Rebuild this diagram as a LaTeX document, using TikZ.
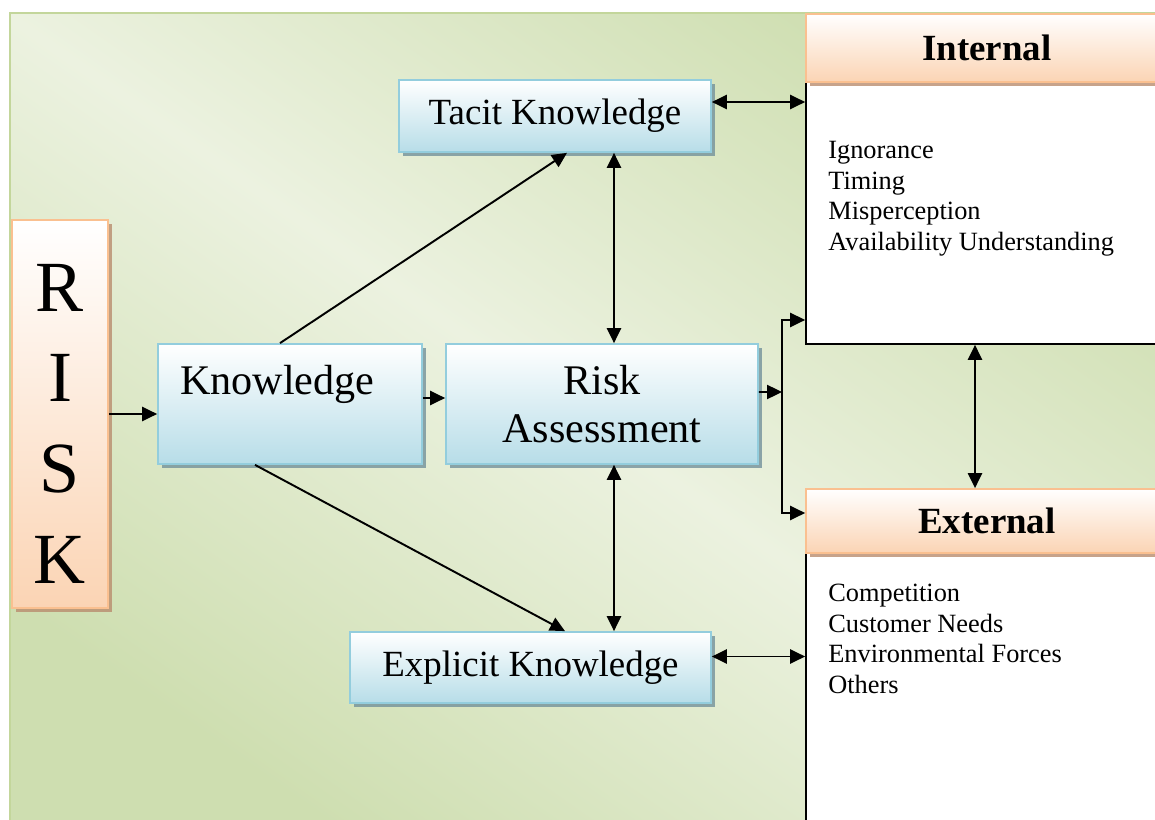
\documentclass[tikz,border=0pt]{standalone}
\usepackage{fontspec}
\setmainfont{Liberation Serif}
\usetikzlibrary{arrows.meta,shadows}
\definecolor{panel}{RGB}{236,242,224}
\definecolor{panelgreen}{RGB}{206,222,176}
\definecolor{panelline}{RGB}{195,214,155}
\definecolor{boxblue}{RGB}{183,221,232}
\definecolor{lineblue}{RGB}{147,205,221}
\definecolor{shadeblue}{RGB}{115,145,155}
\definecolor{peach}{RGB}{251,212,180}
\definecolor{linepeach}{RGB}{250,192,144}
\definecolor{shadepeach}{RGB}{185,140,110}

\begin{document}
\begin{tikzpicture}[x=0.02cm, y=-0.02cm,
    bluebox/.style={draw=lineblue, line width=1pt, top color=white, bottom color=boxblue,
      inner sep=0pt, drop shadow={shadow xshift=0.08cm, shadow yshift=-0.08cm, fill=shadeblue, opacity=0.8}},
    peachbox/.style={draw=linepeach, line width=1pt, top color=white, bottom color=peach,
      inner sep=0pt, drop shadow={shadow xshift=0.08cm, shadow yshift=-0.08cm, fill=shadepeach, opacity=0.8}},
    listbox/.style={draw=black, fill=white, line width=1pt, inner sep=0pt},
    arr/.style={line width=1.1pt, -{Triangle[length=8.5pt,width=8pt]}},
    darr/.style={line width=1.1pt, {Triangle[length=8.5pt,width=8pt]}-{Triangle[length=8.5pt,width=8pt]}}]
  \useasboundingbox (0,0) rectangle (1155,820);

  % Background
  \shade[top color=panelgreen, bottom color=panelgreen, middle color=panel, shading angle=-35]
    (10,13) rectangle (1165,830);
  \draw[panelline, line width=1.2pt] (10,830) -- (10,13) -- (1165,13);

  % Internal / External
  \node[listbox, minimum width=7.24cm, minimum height=5.24cm] (intbody) at (987,213) {};
  \node[listbox, minimum width=7.24cm, minimum height=5.74cm] (extbody) at (987,697) {};
  \node[peachbox, minimum width=7.24cm, minimum height=1.36cm, font=\fontsize{21}{25}\bfseries] (inthead) at (987,48) {Internal};
  \node[peachbox, minimum width=7.24cm, minimum height=1.28cm, font=\fontsize{21}{25}\bfseries] (exthead) at (987,521) {External};
  \node[anchor=north west, align=left, inner sep=0pt, font=\fontsize{15}{17.4}\selectfont] (intlist) at (828,141)
    {Ignorance\\Timing\\Misperception\\Availability Understanding};
  \node[anchor=north west, align=left, inner sep=0pt, font=\fontsize{15}{17.4}\selectfont] (extlist) at (828,584)
    {Competition\\Customer Needs\\Environmental Forces\\Others};

  % Boxes
  \node[peachbox, minimum width=1.92cm, minimum height=7.76cm, align=center, font=\fontsize{41}{51.6}\selectfont] (risk) at (60,414)
    {\rule{0pt}{37.8pt}R\\I\\S\\K};
  \node[bluebox, minimum width=5.28cm, minimum height=2.4cm, align=left, text width=4.4cm, inner xsep=0.44cm,
    font=\fontsize{24}{27.8}\selectfont] (know) at (290,404) {Knowledge\\\mbox{}};
  \node[bluebox, minimum width=6.24cm, minimum height=2.4cm, align=center, font=\fontsize{24}{27.8}\selectfont] (assess) at (602,404)
    {Risk\\Assessment};
  \node[bluebox, minimum width=6.24cm, minimum height=1.44cm, font=\fontsize{21}{25}\selectfont] (tacit) at (555,116) {Tacit Knowledge};
  \node[bluebox, minimum width=7.22cm, minimum height=1.42cm, font=\fontsize{21}{25}\selectfont] (explicit) at (530.5,667.5) {Explicit Knowledge};

  % Arrows
  \draw[arr] (risk.east) -- (risk.east -| know.west);
  \draw[arr] ([yshift=0.12cm]know.east) -- ([yshift=0.12cm]know.east -| assess.west);
  \draw[arr] ([xshift=-0.2cm]know.north) -- ([xshift=0.24cm]tacit.south);
  \draw[arr] ([xshift=-0.7cm]know.south) -- ([xshift=0.69cm]explicit.north);
  \draw[darr] ([xshift=0.24cm]assess.north) -- ([xshift=0.24cm]assess.north |- tacit.south);
  \draw[darr] ([xshift=0.24cm]assess.south) -- ([xshift=0.24cm]assess.south |- explicit.north);
  \draw[darr] ([yshift=0.28cm]tacit.east) -- ([yshift=0.28cm]tacit.east -| intbody.west);
  \draw[darr] ([yshift=0.22cm]explicit.east) -- ([yshift=0.22cm]explicit.east -| extbody.west);
  \coordinate (split) at (782,392);
  \draw[arr] ([yshift=0.24cm]assess.east) -- (split);
  \draw[arr] (split) |- ([yshift=-2.14cm]intbody.west);
  \draw[arr] (split) |- ([yshift=0.16cm]exthead.west);
  \draw[darr] ([xshift=-0.24cm]intbody.south) -- ([xshift=-0.24cm]intbody.south |- exthead.north);
\end{tikzpicture}
\end{document}
